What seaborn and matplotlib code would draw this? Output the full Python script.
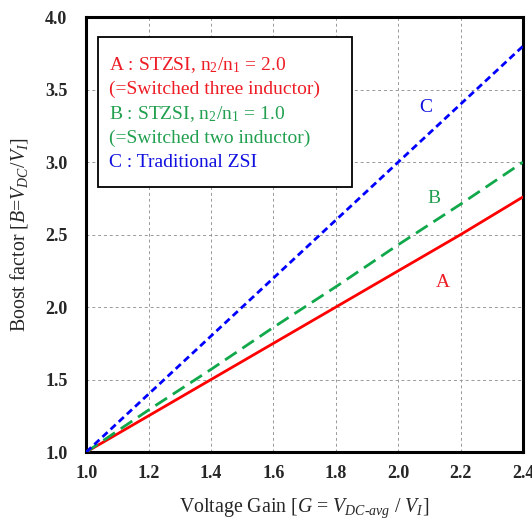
import matplotlib
matplotlib.use("Agg")
import matplotlib.pyplot as plt
import seaborn as sns
import pandas as pd
from matplotlib.patches import Rectangle

sns.set_theme(style="white")
plt.rcParams['font.family'] = ['Liberation Serif', 'DejaVu Serif']
plt.rcParams['mathtext.fontset'] = 'custom'
plt.rcParams['mathtext.rm'] = 'Liberation Serif'
plt.rcParams['mathtext.it'] = 'Liberation Serif:italic'
plt.rcParams['mathtext.bf'] = 'Liberation Serif:bold'

gain = [1.0, 1.2, 1.4, 1.6, 1.8, 2.0, 2.2, 2.4]
boost_a = [1.0, 1.25, 1.5, 1.75, 2.0, 2.25, 2.5, 2.76]
boost_b = [1.0, 1.29, 1.57, 1.86, 2.14, 2.43, 2.71, 3.0]
boost_c = [1.0, 1.4, 1.8, 2.2, 2.6, 3.0, 3.4, 3.8]
x_ticks = [1.0, 1.2, 1.4, 1.6, 1.8, 2.0, 2.2, 2.4]
y_ticks = [1.0, 1.5, 2.0, 2.5, 3.0, 3.5, 4.0]

legend_lines = [
    (r"A : STZSI, n$_2$/n$_1$ = 2.0", "#EE1C25"),
    ("(=Switched three inductor)", "#EE1C25"),
    (r"B : STZSI, n$_2$/n$_1$ = 1.0", "#22A050"),
    ("(=Switched two inductor)", "#22A050"),
    ("C : Traditional ZSI", "#1010E0"),
]

red, green, blue = "#FF0000", "#10A84A", "#0000FF"

fig = plt.figure(figsize=(5.32, 5.22), dpi=100)
ax = fig.add_axes([0.162, 0.134, 0.821, 0.833])

df = pd.DataFrame({"G": gain, "A": boost_a, "B": boost_b, "C": boost_c})
sns.lineplot(data=df, x="G", y="A", ax=ax, color=red, lw=2.0, zorder=3)
sns.lineplot(data=df, x="G", y="B", ax=ax, color=green, lw=2.0, zorder=3,
             linestyle=(0, (5, 2.5)))
sns.lineplot(data=df, x="G", y="C", ax=ax, color=blue, lw=2.0, zorder=4,
             linestyle=(0, (2.5, 1.5)))

ax.set_xlim(1.0, 2.4)
ax.set_ylim(1.0, 4.0)
ax.set_xticks(x_ticks)
ax.set_yticks(y_ticks)
ax.set_xticklabels([f"{v:.1f}" for v in x_ticks], fontweight="bold", fontsize=13)
ax.set_yticklabels([f"{v:.1f}" for v in y_ticks], fontweight="bold", fontsize=13)
ax.tick_params(axis="x", length=0, pad=9.5)
ax.tick_params(axis="y", length=0, pad=13.5)
ax.grid(True, color="#999999", linestyle=(0, (3, 3)), linewidth=0.7)
for s in ax.spines.values():
    s.set_linewidth(2.2)
    s.set_color("black")

ax.set_xlabel(r"Voltage Gain [$G$ = $V_{DC‐avg}$ / $V_I$]", fontsize=14.3, labelpad=10)
ax.set_ylabel(r"Boost factor [$B$=$V_{DC}$/$V_I$]", fontsize=14.3, labelpad=11)

# legend box
ax.add_patch(Rectangle((0.027, 0.609), 0.582, 0.345, transform=ax.transAxes,
                       fill=True, facecolor="white", edgecolor="black", lw=1.3, zorder=5))
y0 = 0.889
for i, (txt, col) in enumerate(legend_lines):
    ax.text(0.052, y0 - i * 0.0558, txt, color=col, fontsize=14,
            transform=ax.transAxes, va="center", ha="left", zorder=6)

ax.text(2.09, 3.38, "C", color="#1010E0", fontsize=14, ha="center", va="center")
ax.text(2.115, 2.75, "B", color="#22A050", fontsize=14, ha="center", va="center")
ax.text(2.144, 2.17, "A", color="#EE1C25", fontsize=14, ha="center", va="center")

fig.savefig("out.png", dpi=100)
